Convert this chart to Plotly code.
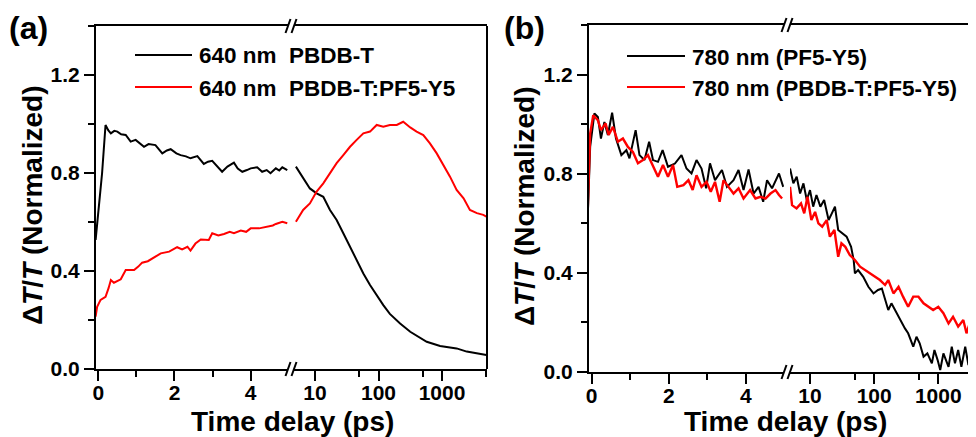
import plotly.graph_objects as go

# ---------------- data ----------------
# Panel (a): 640 nm probe
a_black_lin_t = [-0.07, 0.10, 0.19, 0.26, 0.33, 0.42, 0.50, 0.60, 0.72, 0.85, 0.98, 1.08, 1.20, 1.32, 1.50, 1.68, 1.80, 1.90,
                 2.05, 2.16, 2.30, 2.42, 2.60, 2.77, 2.88, 2.99, 3.12, 3.25, 3.39, 3.56, 3.66, 3.78, 3.90, 4.00, 4.17,
                 4.30, 4.42, 4.52, 4.66, 4.75, 4.83, 4.96]
a_black_lin = [0.527, 0.800, 0.996, 0.975, 0.962, 0.972, 0.969, 0.958, 0.955, 0.928, 0.935, 0.922, 0.907, 0.918, 0.914,
               0.880, 0.892, 0.897, 0.880, 0.873, 0.868, 0.860, 0.869, 0.837, 0.846, 0.850, 0.828, 0.805, 0.826, 0.842,
               0.818, 0.805, 0.812, 0.819, 0.823, 0.805, 0.812, 0.799, 0.819, 0.810, 0.823, 0.812]
a_black_log_t = [5.0, 6.5, 8.3, 10.6, 13.5, 17.2, 21.9, 27.9, 35.6, 45.3, 57.7, 73.5, 93.7, 119, 151, 219, 316, 447, 575,
                 933, 1700, 2455, 3548, 5012]
a_black_log = [0.826, 0.778, 0.737, 0.717, 0.703, 0.649, 0.608, 0.554, 0.499, 0.445, 0.390, 0.343, 0.300, 0.261, 0.225,
               0.186, 0.152, 0.128, 0.111, 0.094, 0.084, 0.071, 0.064, 0.057]

a_red_lin_t = [-0.07, -0.03, 0.06, 0.19, 0.27, 0.33, 0.41, 0.59, 0.72, 0.94, 1.05, 1.15, 1.30, 1.42, 1.64, 1.86, 2.07,
               2.20, 2.34, 2.42, 2.55, 2.69, 2.90, 2.99, 3.15, 3.30, 3.45, 3.56, 3.74, 3.88, 4.00, 4.22, 4.44, 4.58,
               4.66, 4.83, 4.96]
a_red_lin = [0.214, 0.254, 0.282, 0.295, 0.330, 0.363, 0.352, 0.366, 0.404, 0.404, 0.418, 0.434, 0.440, 0.452, 0.472,
             0.479, 0.497, 0.488, 0.499, 0.483, 0.512, 0.529, 0.527, 0.554, 0.545, 0.551, 0.560, 0.554, 0.565, 0.560,
             0.574, 0.574, 0.581, 0.586, 0.592, 0.601, 0.595]
a_red_log_t = [5.0, 6.5, 8.3, 10.6, 13.5, 17.2, 21.9, 27.9, 35.6, 45.3, 57.7, 73.5, 93.7, 119, 151, 194, 245, 316, 398,
               508, 646, 826, 1047, 1337, 1700, 2188, 2754, 3548, 4467, 5012]
a_red_log = [0.601, 0.649, 0.676, 0.724, 0.758, 0.799, 0.840, 0.873, 0.907, 0.935, 0.962, 0.969, 0.996, 0.989, 0.996,
             0.996, 1.009, 0.986, 0.969, 0.955, 0.921, 0.880, 0.833, 0.785, 0.731, 0.697, 0.649, 0.636, 0.629, 0.622]

# Panel (b): 780 nm probe
b_black_lin_t = [-0.10, -0.04, 0.07, 0.16, 0.24, 0.33, 0.42, 0.53, 0.63, 0.77, 0.90, 0.98, 1.14, 1.24, 1.37, 1.49, 1.59,
                 1.72, 1.84, 1.98, 2.16, 2.33, 2.46, 2.59, 2.72, 2.85, 2.97, 3.07, 3.20, 3.38, 3.51, 3.68, 3.81, 3.94,
                 4.07, 4.20, 4.33, 4.45, 4.55, 4.68, 4.86, 4.97]
b_black_lin = [0.640, 0.908, 1.043, 1.029, 0.942, 1.009, 0.956, 1.046, 0.942, 0.875, 0.895, 0.862, 0.976, 0.875, 0.855,
               0.929, 0.855, 0.848, 0.895, 0.828, 0.841, 0.875, 0.821, 0.801, 0.855, 0.821, 0.741, 0.842, 0.774, 0.815,
               0.747, 0.774, 0.815, 0.734, 0.817, 0.720, 0.747, 0.687, 0.774, 0.741, 0.801, 0.747]
b_black_log_t = [4.88, 5.5, 6.2, 7.0, 7.9, 8.9, 10, 11.2, 12.6, 14.5, 16.6, 19.5, 21.9, 24.5, 27.5, 31.6, 37.2, 43.7,
                 47.9, 50.1, 56.2, 67.6, 81.3, 97.7, 115, 132, 148, 166, 186, 224, 269, 302, 339, 407, 457, 513, 589,
                 676, 794, 871, 977, 1072, 1202, 1445, 1622, 1820, 2042, 2291, 2630, 2951, 3311, 3715, 4169]
b_black_log = [0.821, 0.761, 0.788, 0.720, 0.761, 0.694, 0.734, 0.667, 0.714, 0.667, 0.694, 0.613, 0.640, 0.667, 0.573,
               0.559, 0.546, 0.505, 0.452, 0.398, 0.411, 0.384, 0.344, 0.317, 0.331, 0.337, 0.290, 0.250, 0.277, 0.237,
               0.196, 0.176, 0.156, 0.102, 0.142, 0.116, 0.062, 0.075, 0.035, 0.089, 0.048, 0.008, 0.075, 0.021, 0.102,
               0.035, 0.089, 0.021, 0.102, 0.028, 0.089, 0.035, 0.070]

b_red_lin_t = [-0.10, -0.04, 0.04, 0.16, 0.24, 0.36, 0.44, 0.55, 0.68, 0.81, 0.94, 1.07, 1.20, 1.33, 1.46, 1.59, 1.72,
               1.85, 1.98, 2.11, 2.22, 2.38, 2.51, 2.62, 2.72, 2.85, 2.98, 3.09, 3.20, 3.32, 3.42, 3.55, 3.68, 3.81,
               3.94, 4.11, 4.25, 4.38, 4.51, 4.64, 4.77, 4.86, 4.94]
b_red_lin = [0.667, 0.962, 1.036, 1.016, 0.976, 1.003, 0.956, 0.989, 0.929, 0.942, 0.908, 0.888, 0.842, 0.855, 0.875,
             0.828, 0.788, 0.835, 0.788, 0.835, 0.747, 0.754, 0.774, 0.734, 0.794, 0.747, 0.767, 0.727, 0.767, 0.687,
             0.774, 0.747, 0.720, 0.741, 0.700, 0.734, 0.700, 0.707, 0.700, 0.720, 0.734, 0.714, 0.700]
b_red_log_t = [4.88, 5.25, 6.17, 7.24, 8.13, 9.12, 10.5, 12.0, 13.5, 15.5, 18.2, 20.4, 24.0, 27.5, 30.9, 35.5, 41.7,
               50.1, 60.3, 72.4, 87.1, 102, 123, 148, 166, 200, 240, 282, 339, 407, 490, 589, 692, 832, 1000, 1202,
               1445, 1698, 2042, 2455, 2754, 3090, 3548, 3802, 4169]
b_red_log = [0.747, 0.673, 0.660, 0.680, 0.640, 0.707, 0.613, 0.646, 0.600, 0.586, 0.613, 0.546, 0.573, 0.465, 0.519,
             0.505, 0.472, 0.452, 0.425, 0.411, 0.398, 0.384, 0.371, 0.351, 0.371, 0.317, 0.344, 0.304, 0.263, 0.304,
             0.304, 0.277, 0.263, 0.250, 0.263, 0.237, 0.196, 0.223, 0.183, 0.210, 0.156, 0.196, 0.142, 0.169, 0.150]

legend_a = ["640 nm\u00a0\u00a0PBDB-T", "640 nm\u00a0\u00a0PBDB-T:PF5-Y5"]
legend_b = ["780 nm (PF5-Y5)", "780 nm (PBDB-T:PF5-Y5)"]
lin_ticks = [0, 2, 4]
log_ticks = [10, 100, 1000]
log_minor = [50, 500, 5000]
y_ticks = [0.0, 0.4, 0.8, 1.2]

# ---------------- layout geometry (pixels of the 976x437 window) ----------------
PAGE_W, PAGE_H = 976, 437
OFF = 8                      # default page margin around the plot div
W, H = PAGE_W - OFF, PAGE_H - OFF
FONT = "Liberation Sans, Arial, sans-serif"
BLACK, RED = "#000000", "#ff0000"


def px(x):
    return (x - OFF) / W


def py(y):
    return (PAGE_H - y) / H


fig = go.Figure()

traces = [
    (a_black_lin_t, a_black_lin, "x", "y", BLACK, 2),
    (a_red_lin_t, a_red_lin, "x", "y", RED, 2),
    (a_black_log_t, a_black_log, "x2", "y", BLACK, 2),
    (a_red_log_t, a_red_log, "x2", "y", RED, 2),
    (b_black_lin_t, b_black_lin, "x3", "y2", BLACK, 2),
    (b_red_lin_t, b_red_lin, "x3", "y2", RED, 2.4),
    (b_black_log_t, b_black_log, "x4", "y2", BLACK, 2),
    (b_red_log_t, b_red_log, "x4", "y2", RED, 2.4),
]
for tx, ty, xa, ya, col, lw in traces:
    fig.add_trace(go.Scatter(x=tx, y=ty, xaxis=xa, yaxis=ya, mode="lines",
                             line=dict(color=col, width=lw), showlegend=False, hoverinfo="skip"))

tickfont = dict(family=FONT, size=21, color="black", weight="bold")
common_x = dict(showline=True, linewidth=2, linecolor="black", mirror=True, ticks="outside", ticklen=10,
                tickwidth=2, tickcolor="black", showgrid=False, zeroline=False, tickfont=tickfont,
                automargin=False, ticklabelstandoff=-6)

panels = {
    "a": dict(xl=96, xbl=288, xbr=294, xr=487, yt=26, yb=369, lin=[-0.06, 4.979], log=[0.669, 3.709]),
    "b": dict(xl=589, xbl=784, xbr=790, xr=976, yt=25, yb=372, lin=[-0.07, 4.99], log=[0.688, 3.588]),
}

layout = dict(width=W, height=H, margin=dict(l=0, r=0, t=0, b=0, autoexpand=False), plot_bgcolor="white",
              paper_bgcolor="white", showlegend=False)

names = {"a": ("xaxis", "xaxis2", "yaxis", "x", "y"), "b": ("xaxis3", "xaxis4", "yaxis2", "x3", "y2")}
for key, p in panels.items():
    xl_name, xg_name, y_name, xlin_ref, y_ref = names[key]
    ydom = [py(p["yb"]), py(p["yt"])]
    layout[xl_name] = dict(common_x, domain=[px(p["xl"]), px(p["xbl"])], range=p["lin"], anchor=y_ref,
                           tickmode="array", tickvals=lin_ticks, ticktext=[str(v) for v in lin_ticks],
                           minor=dict(dtick=1, tick0=0, ticks="outside", ticklen=6, tickwidth=2, tickcolor="black"))
    layout[xg_name] = dict(common_x, type="log", domain=[px(p["xbr"]), min(1.0, px(p["xr"]))], range=p["log"],
                           anchor=y_ref, tickmode="array", tickvals=log_ticks, ticktext=[str(v) for v in log_ticks],
                           minor=dict(tickmode="array", tickvals=log_minor, ticks="outside", ticklen=6, tickwidth=2,
                                      tickcolor="black"))
    layout[y_name] = dict(domain=ydom, range=[0, 1.4], anchor=xlin_ref, showline=True, linewidth=2,
                          linecolor="black", ticks="outside", ticklen=10, tickwidth=2, tickcolor="black",
                          tickmode="array", tickvals=y_ticks, ticktext=["%.1f" % v for v in y_ticks],
                          minor=dict(dtick=0.2, tick0=0, ticks="outside", ticklen=6, tickwidth=2, tickcolor="black"),
                          showgrid=False, zeroline=False, tickfont=tickfont, automargin=False)

fig.update_layout(**layout)

shapes = []
annotations = []
# right border of panel (a)
shapes.append(dict(type="line", xref="x2 domain", yref="y domain", x0=1, x1=1, y0=0, y1=1,
                   line=dict(color="black", width=2)))
# axis-break marks
for key, p in panels.items():
    for ybase in (p["yt"], p["yb"]):
        for xc in (p["xbl"], p["xbr"]):
            shapes.append(dict(type="line", xref="paper", yref="paper", x0=px(xc - 2.5), x1=px(xc + 2.5),
                               y0=py(ybase + 7), y1=py(ybase - 7), line=dict(color="black", width=2)))

bold = lambda s: dict(family=FONT, size=s, color="black", weight="bold")

# panel labels
annotations.append(dict(text="(a)", x=px(28), y=py(28), xref="paper", yref="paper", showarrow=False,
                        font=bold(32), xanchor="center", yanchor="middle"))
annotations.append(dict(text="(b)", x=px(524), y=py(28), xref="paper", yref="paper", showarrow=False,
                        font=bold(32), xanchor="center", yanchor="middle"))
# axis titles
ytitle = "\u0394<i>T</i>/<i>T</i> (Normalized)"
for xc, yc in ((32, 206), (525, 207)):
    annotations.append(dict(text=ytitle, x=px(xc), y=py(yc), xref="paper", yref="paper", showarrow=False,
                            textangle=-90, font=bold(28), xanchor="center", yanchor="middle"))
for xc in (292.5, 785.5):
    annotations.append(dict(text="Time delay (ps)", x=px(xc), y=py(421), xref="paper", yref="paper",
                            showarrow=False, font=bold(28), xanchor="center", yanchor="middle"))

# manual legends
for (x0, x1, tx, labels, rows) in ((135, 192, 197, legend_a, (55, 87)), (627, 685, 690, legend_b, (56, 87))):
    for lab, col, yr in zip(labels, (BLACK, RED), rows):
        shapes.append(dict(type="line", xref="paper", yref="paper", x0=px(x0), x1=px(x1), y0=py(yr), y1=py(yr),
                           line=dict(color=col, width=2)))
        annotations.append(dict(text=lab, x=px(tx), y=py(yr + 1), xref="paper", yref="paper", showarrow=False,
                                font=bold(22.5), xanchor="left", yanchor="middle"))

fig.update_layout(shapes=shapes, annotations=annotations)
fig.write_html("out.html")
